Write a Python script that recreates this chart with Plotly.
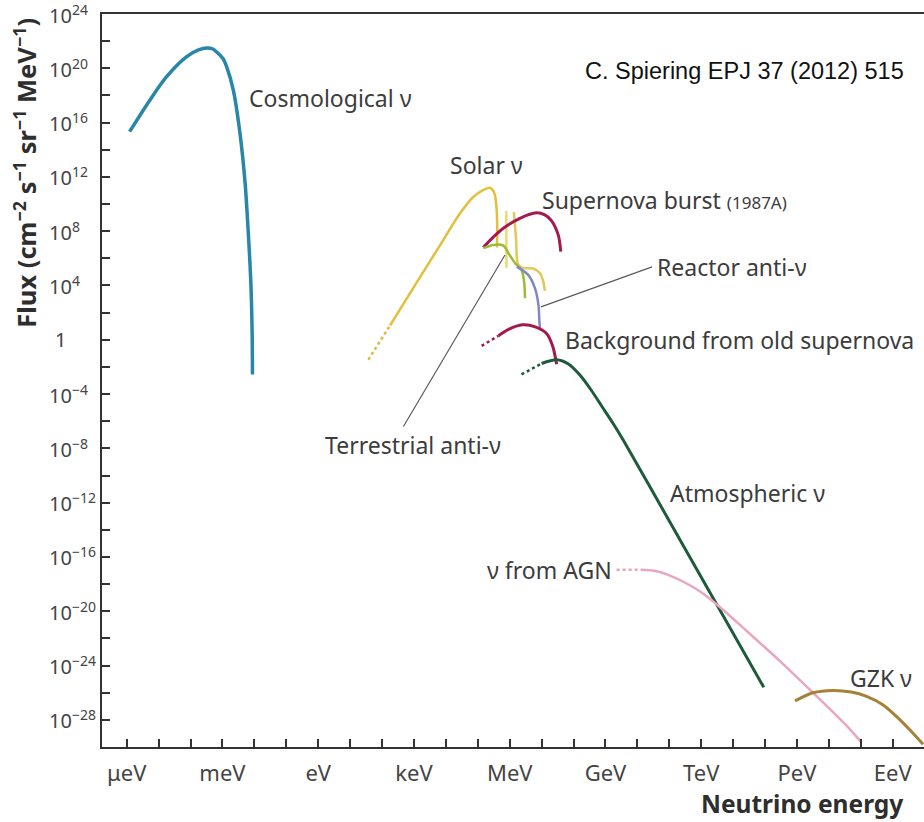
import plotly.graph_objects as go

# ---------------- data (log10 of energy in eV, log10 of flux) ----------------
cosmo_logE = [-5.91, -5.27, -4.75, -4.12, -3.75, -3.49, -3.3, -3.18, -2.98, -2.87, -2.66, -2.45, -2.29, -2.19, -2.11, -2.07, -2.06]
cosmo_logF = [15.33, 17.67, 19.38, 20.86, 21.35, 21.5, 21.42, 21.2, 20.7, 20.12, 18.4, 15.2, 11.53, 7.85, 4.17, 0.49, -2.55]

solar_dot_logE = [1.57, 2.25]
solar_dot_logF = [-1.47, 1.05]
solar_logE = [2.25, 3.0, 3.8, 4.44, 4.85, 5.15, 5.38, 5.52, 5.59, 5.61, 5.60]
solar_logF = [1.05, 3.9, 6.9, 9.3, 10.5, 11.0, 11.2, 10.8, 9.6, 8.0, 6.8]
solar_be_logE = [5.89, 5.90]
solar_be_logF = [9.5, 5.3]
solar_b8_logE = [6.13, 6.2, 6.26, 6.4, 6.73, 6.95, 7.05, 7.1]
solar_b8_logF = [9.4, 7.4, 5.55, 5.3, 5.25, 4.9, 4.3, 3.6]

sn_logE = [5.17, 5.5, 5.8, 6.32, 6.84, 7.1, 7.3, 7.52, 7.6]
sn_logF = [6.8, 7.6, 8.22, 8.95, 9.35, 9.2, 8.8, 7.73, 6.5]

terr_logE = [5.17, 5.49, 5.80, 5.96, 6.17, 6.37, 6.45, 6.48]
terr_logF = [6.75, 6.99, 6.94, 6.38, 5.64, 5.15, 4.29, 3.07]

reactor_logE = [6.22, 6.58, 6.79, 6.9, 6.93, 6.95]
reactor_logF = [5.39, 4.78, 3.8, 2.57, 1.34, 0.86]

bg_dot_logE = [5.12, 5.65]
bg_dot_logF = [-0.45, 0.3]
bg_logE = [5.65, 5.95, 6.4, 6.8, 7.16, 7.35, 7.47]
bg_logF = [0.3, 0.75, 1.1, 0.95, 0.45, -0.5, -1.8]

atm_dot_logE = [6.37, 7.0]
atm_dot_logF = [-2.55, -1.75]
atm_logE = [7.0, 7.47, 7.85, 8.2, 8.55, 8.9, 9.25, 9.56, 11.0, 12.5, 13.96]
atm_logF = [-1.75, -1.48, -1.8, -2.6, -3.7, -4.95, -6.2, -7.4, -13.35, -19.55, -25.6]

agn_dot_logE = [9.35, 10.1]
agn_dot_logF = [-16.94, -16.95]
agn_logE = [10.1, 10.6, 11.0, 11.5, 12.0, 12.59, 13.4, 14.5, 15.5, 16.5, 17.0]
agn_logF = [-16.95, -17.05, -17.35, -17.9, -18.6, -19.7, -21.4, -23.75, -26.0, -28.3, -29.6]

gzk_logE = [14.94, 15.5, 16.13, 16.7, 17.18, 17.7, 18.23, 18.6, 18.95]
gzk_logF = [-26.6, -26.0, -25.83, -25.95, -26.27, -26.9, -28.0, -28.9, -29.8]

x_tick_decades = list(range(-6, 19))
x_label_decades = [-6, -3, 0, 3, 6, 9, 12, 15, 18]
x_label_text = ["μeV", "meV", "eV", "keV", "MeV", "GeV", "TeV", "PeV", "EeV"]
y_tick_decades = list(range(-30, 25, 2))
y_label_decades = [24, 20, 16, 12, 8, 4, 0, -4, -8, -12, -16, -20, -24, -28]

# curve labels: (text, logE, logF)
curve_labels = [
    ("Cosmological ν", -2.24, 17.8),
    ("Solar ν", 4.07, 12.85),
    ("Supernova burst <span style='font-size:17px'>(1987A)</span>", 6.95, 10.3),
    ("Reactor anti-ν", 10.55, 5.35),
    ("Background from old supernova", 7.67, 0.0),
    ("Terrestrial anti-ν", 0.15, -7.74),
    ("Atmospheric ν", 10.96, -11.3),
    ("ν from AGN", 5.23, -16.94),
    ("GZK ν", 16.6, -24.9),
]
# leader lines (logE0, logF0, logE1, logF1)
leaders = [
    (6.98, 2.42, 10.46, 5.37),
    (5.85, 6.25, 2.67, -6.39),
]

# ---------------- figure ----------------
def P(v):
    return [10.0 ** a for a in v]

fig = go.Figure()

def add(xs, ys, color, width=3, dash=None):
    fig.add_trace(go.Scatter(
        x=P(xs), y=P(ys), mode="lines",
        line=dict(color=color, width=width, shape="spline", smoothing=0.8,
                  dash=dash if dash else "solid"),
        hoverinfo="skip"))

add(cosmo_logE, cosmo_logF, "#2886a8", 3.5)
add(solar_dot_logE, solar_dot_logF, "#e0b93a", 2.5, "dot")
add(solar_logE, solar_logF, "#e4bf3c", 2.5)
add(solar_be_logE, solar_be_logF, "#ecd970", 2.5)
add(solar_b8_logE, solar_b8_logF, "#e2c85a", 2.5)
add(sn_logE, sn_logF, "#a51a4e", 3)
add(terr_logE, terr_logF, "#9cbc34", 2.5)
add(reactor_logE, reactor_logF, "#7f88c0", 2.5)
add(bg_dot_logE, bg_dot_logF, "#a51a4e", 2.5, "dot")
add(bg_logE, bg_logF, "#a51a4e", 3)
add(atm_dot_logE, atm_dot_logF, "#1e5a3c", 2.5, "dot")
add(atm_logE, atm_logF, "#1e5a3c", 3)
add(agn_dot_logE, agn_dot_logF, "#e9a2bb", 2.5, "dot")
add(agn_logE, agn_logF, "#eaa6bf", 2.5)
add(gzk_logE, gzk_logF, "#a68236", 3)

for (x0, y0, x1, y1) in leaders:
    fig.add_shape(type="line", xref="x", yref="y",
                  x0=10.0 ** x0, y0=10.0 ** y0, x1=10.0 ** x1, y1=10.0 ** y1,
                  line=dict(color="#5a5a5a", width=1.2))

LABEL_FONT = "Noto Sans, Open Sans, sans-serif"
TXT = "#3c3c3c"

for text, lx, ly in curve_labels:
    fig.add_annotation(x=lx, y=ly, xref="x", yref="y", text=text, showarrow=False,
                       xanchor="left", yanchor="middle",
                       font=dict(family=LABEL_FONT, size=23, color=TXT))

# y tick labels (left aligned, like the original)
for d in y_label_decades:
    if d == 0:
        txt, xa, xp = "1", "center", -0.051
    else:
        txt = "10<sup>%s</sup>" % (str(d).replace("-", "−"))
        xa, xp = "left", -0.067
    fig.add_annotation(x=xp, y=d, xref="paper", yref="y", text=txt, showarrow=False,
                       xanchor=xa, yanchor="middle",
                       font=dict(family=LABEL_FONT, size=20, color="#444444"))

# citation
fig.add_annotation(x=8.29, y=19.83, xref="x", yref="y", text="C. Spiering EPJ 37 (2012) 515",
                   showarrow=False, xanchor="left", yanchor="middle",
                   font=dict(family="Liberation Sans, Arial, sans-serif", size=23.5, color="#111111"))

# axis titles
fig.add_annotation(x=-0.094, y=0.783, xref="paper", yref="paper",
                   text="<b>Flux (cm<sup>−2</sup> s<sup>−1</sup> sr<sup>−1</sup> MeV<sup>−1</sup>)</b>",
                   showarrow=False, textangle=-90, xanchor="center", yanchor="middle",
                   font=dict(family=LABEL_FONT, size=25.5, color="#2e2e2e"))
fig.add_annotation(x=0.977, y=-0.077, xref="paper", yref="paper", text="<b>Neutrino energy</b>",
                   showarrow=False, xanchor="right", yanchor="middle",
                   font=dict(family=LABEL_FONT, size=24.5, color="#2e2e2e"))

TICK = dict(ticks="inside", ticklen=8, tickwidth=2, tickcolor="#333333")

fig.update_xaxes(type="log", range=[-6.774, 18.98],
                 tickvals=P(x_label_decades), ticktext=x_label_text,
                 minor=dict(tickvals=P(x_tick_decades), showgrid=False, **TICK),
                 showline=True, linecolor="#333333", linewidth=2, mirror=True,
                 showgrid=False, zeroline=False, ticklabelstandoff=6,
                 tickfont=dict(family=LABEL_FONT, size=22, color="#444444"), **TICK)
fig.update_yaxes(type="log", range=[-30, 24],
                 tickvals=P(y_tick_decades), showticklabels=False,
                 showline=True, linecolor="#333333", linewidth=2,
                 showgrid=False, zeroline=False, **TICK)

fig.update_layout(width=924, height=822, showlegend=False,
                  margin=dict(l=102, r=0, t=14, b=75),
                  plot_bgcolor="white", paper_bgcolor="white")

fig.write_html("out.html")
